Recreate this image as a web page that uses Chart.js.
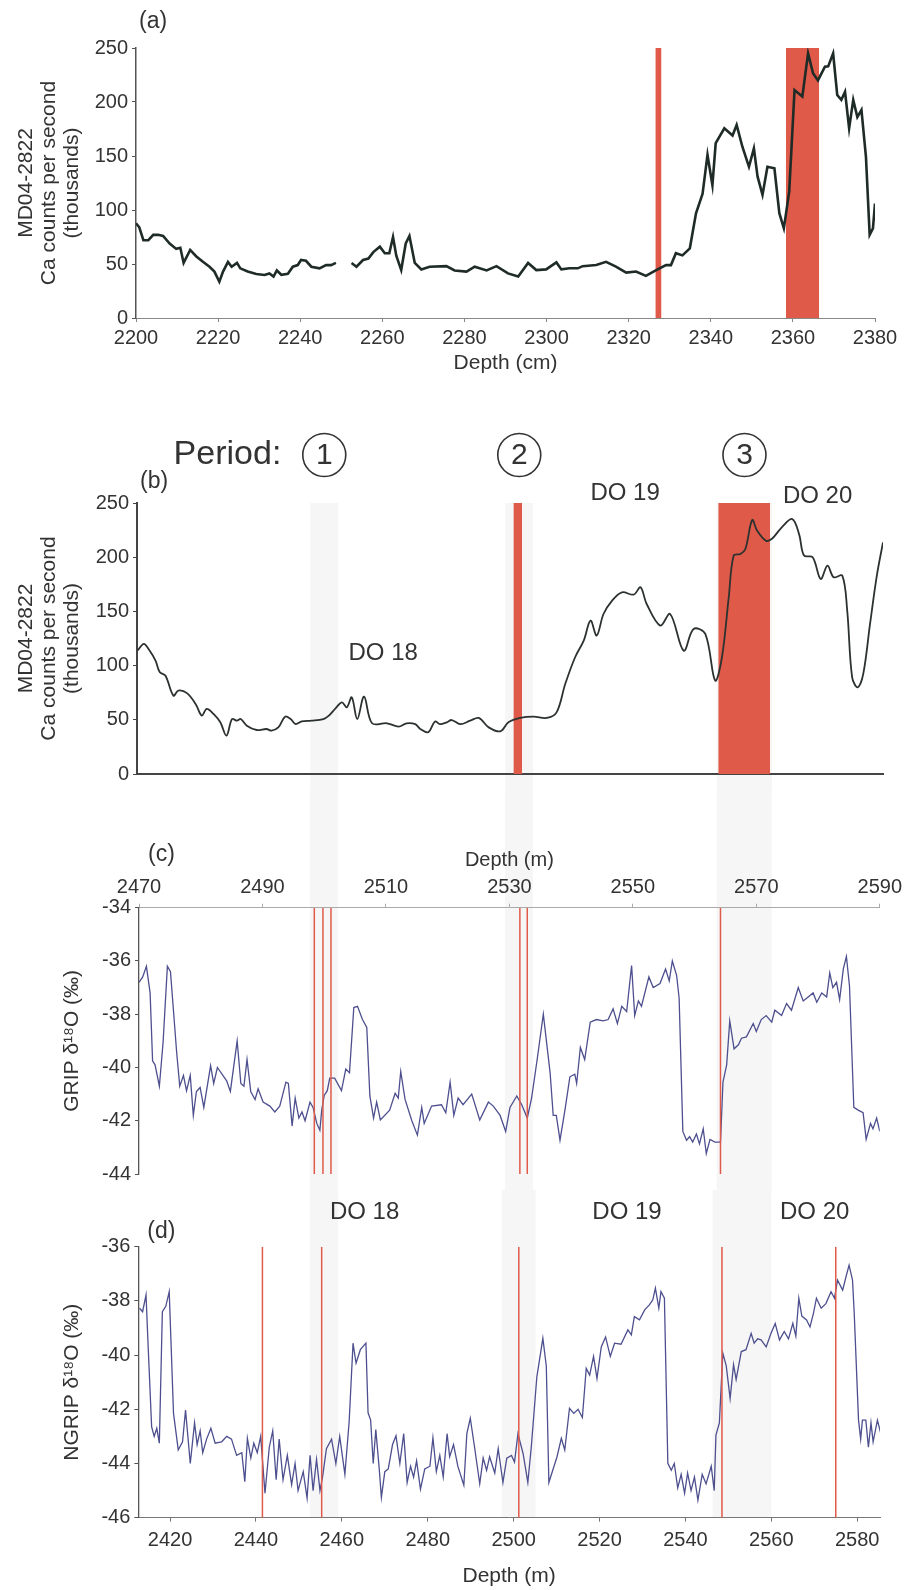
<!DOCTYPE html>
<html>
<head>
<meta charset="utf-8">
<script src="https://cdn.jsdelivr.net/npm/chart.js@4/dist/chart.umd.min.js"></script>
<style>
  body { margin: 0; background: #fff; }
  #wrap { position: relative; width: 906px; height: 1590px; }
  #wrap canvas { position: absolute; left: 0; }
</style>
</head>
<body>
<div id="wrap">
  <canvas id="chartA" width="906" height="378" style="top:0"></canvas>
  <canvas id="chartB" width="906" height="412" style="top:378px"></canvas>
  <canvas id="chartC" width="906" height="400" style="top:790px"></canvas>
  <canvas id="chartD" width="906" height="400" style="top:1190px"></canvas>
</div>
<script>
// (a) MD04-2822 Ca counts vs core depth (cm); null marks the gap in the record
const aDepth = [2200, 2200.8, 2201.8, 2203, 2204.2, 2205.4, 2206.6, 2208.2, 2209.8, 2210.8,
  2211.6, 2213.2, 2214.7, 2216.3, 2217.9, 2219.1, 2220.3, 2221.2, 2222.4, 2223.3,
  2224.6, 2225.4, 2227.2, 2229.3, 2231.3, 2232.5, 2233.5, 2234.3, 2235.4, 2237,
  2238.2, 2239.4, 2240.2, 2241.4, 2242.7, 2244.7, 2246.3, 2247.5, 2248.7, 2250.5,
  2252.5, 2253.7, 2255.3, 2256.6, 2257.8, 2259.4, 2260.6, 2261.7, 2262.6, 2263.4,
  2264.6, 2265.7, 2266.6, 2267.9, 2269.5, 2271.5, 2275.6, 2277.6, 2280.5, 2282.5,
  2285.4, 2287.8, 2290.6, 2293.1, 2295.5, 2297.5, 2299.9, 2302.4, 2303.6, 2305.6,
  2307.6, 2308.8, 2312.1, 2314.5, 2316.9, 2319.4, 2321.8, 2324.2, 2326.7, 2329.1,
  2330.3, 2331.5, 2333.1, 2334.9, 2336.4, 2338, 2339.2, 2340.4, 2341.2, 2343.3,
  2345.3, 2346.3, 2347.7, 2349.3, 2350.5, 2351.4, 2352.6, 2353.8, 2355.5, 2356.7,
  2357.8, 2359.1, 2360.4, 2362.3, 2363.7, 2364.9, 2366.1, 2367.8, 2368.6, 2369.8,
  2370.8, 2371.8, 2372.7, 2373.7, 2374.7, 2375.7, 2376.7, 2377.8, 2378.7, 2379.5, 2380];
const aCa = [87.7, 84, 72, 72, 77, 77, 76, 69, 64, 65,
  51, 63, 57, 52, 47.5, 43, 33.6, 43, 52, 47.5,
  51, 46, 43, 40.7, 39.8, 41.3, 38.4, 44, 40, 41,
  47.5, 49, 53.7, 53, 47.5, 46, 49, 49, 51, null,
  51, 47.5, 53.7, 55, 61, 66, 60, 60, 75, 57.7,
  44.4, 69, 76, 51, 45, 47.5, 48, 44, 43, 47.5,
  44, 48, 41.3, 38.4, 51, 44.4, 45, 51.5, 45, 46,
  46, 48, 49, 52, 47.5, 42, 43, 39, 44.4, 49,
  49, 60, 58, 64.5, 97, 115, 151, 123, 162, 175.6,
  169, 178.7, 158.6, 140, 157, 130.9, 114, 140, 138.6, 97,
  83, 117, 211, 205, 245, 226.6, 220, 232.7, 233, 245,
  206.5, 202, 209.5, 175.6, 202, 186, 192.6, 149, 77, 83, 106];
const aRedBars = [[2326.5, 2328.0], [2358.3, 2366.4]];

// (b) the same Ca record placed on the GRIP depth axis (m)
const bDepth = [2469.7, 2470.7, 2471.5, 2472.6, 2473.3, 2474.2, 2475.5, 2476.3, 2477.7, 2479.1,
  2480.1, 2480.9, 2482, 2483.1, 2484.1, 2485, 2485.8, 2486.4, 2487.4, 2489,
  2490.6, 2491.4, 2492.5, 2493.6, 2494.5, 2495.3, 2496.3, 2497.9, 2499.8, 2500.7,
  2501.7, 2502.8, 2503.6, 2504.4, 2505.3, 2506.4, 2507.7, 2510.1, 2512, 2513.3,
  2514.7, 2515.5, 2516.8, 2517.9, 2518.7, 2519.8, 2520.6, 2522, 2523.6, 2525,
  2526.6, 2528.5, 2529.8, 2531.7, 2533.9, 2536, 2537.6, 2539, 2540.6, 2542,
  2543.1, 2544.1, 2545.2, 2546.6, 2548.2, 2550.1, 2551.2, 2552.2, 2554.4, 2556,
  2558.2, 2559.8, 2561.7, 2563.3, 2564.4, 2565.5, 2566.3, 2567.4, 2568.2, 2569.3,
  2570.1, 2571.5, 2572.5, 2574.1, 2575.8, 2576.9, 2577.7, 2579.1, 2580.4, 2581.5,
  2582.5, 2583.9, 2584.7, 2585.5, 2586.4, 2587.3, 2588.4, 2589.5, 2590.5];
const bCa = [114, 120, 115, 104.6, 93.8, 90.8, 72.3, 77, 74.6, 64.6,
  53.9, 60, 55.4, 47.7, 35.4, 50.7, 49.2, 50.7, 44.6, 40.6,
  41.5, 40, 43, 52.9, 50.7, 46.1, 48.5, 49.2, 50.7, 53.9,
  60, 66.1, 61.5, 70.8, 50.7, 71.4, 46.8, 46.8, 43.7, 46.8,
  46, 41.5, 38.5, 48.5, 46, 47.7, 49.8, 46, 49.2, 51.7,
  43, 39.4, 47.7, 51.7, 52.9, 51.7, 56.9, 83, 107.7, 123,
  141.5, 127.7, 147.6, 160, 167.6, 165.5, 172.2, 156.8, 136.9, 147.6,
  113.8, 133.8, 129.2, 86.2, 107.7, 163, 201.5, 203, 207.6, 234.3,
  224.5, 215.3, 217, 227.6, 235.2, 221.3, 201.5, 200, 179.9, 192.2,
  181.5, 183, 150.7, 89.2, 80, 92.3, 138.4, 183, 213.7];
const bRedBars = [[2530.6, 2532.0], [2563.8, 2572.2]];
const bBands = [[2497.7, 2502.2], [2529.3, 2533.8], [2563.6, 2572.5]];
const periods = ["1", "2", "3"];

// (c) GRIP d18O vs depth (m)
const cDepth = [2470, 2470.6, 2471.2, 2471.8, 2472.2, 2472.6, 2473.3, 2473.9, 2474.6, 2475.1,
  2476.1, 2476.6, 2477.2, 2477.7, 2478.3, 2478.8, 2479.3, 2479.9, 2480.5, 2481.6,
  2482.1, 2482.7, 2484.2, 2484.8, 2485.9, 2486.5, 2487, 2487.5, 2488.1, 2488.8,
  2489.3, 2490.1, 2491.2, 2492, 2492.8, 2493.8, 2494.2, 2494.8, 2495.3, 2495.9,
  2496.4, 2496.9, 2497.7, 2498.2, 2498.8, 2499.3, 2499.6, 2500, 2500.5, 2500.9,
  2501.7, 2502.8, 2503.5, 2504.1, 2504.8, 2505.4, 2506.2, 2506.9, 2507.4, 2508,
  2508.5, 2509.1, 2510.6, 2511.5, 2512, 2512.4, 2513.1, 2514.2, 2515.1, 2515.8,
  2516.2, 2517.4, 2519, 2519.7, 2520.4, 2521, 2521.7, 2522.5, 2523.9, 2525.2,
  2526.6, 2527.4, 2528.5, 2529.4, 2530.1, 2531.2, 2532, 2532.9, 2533.6, 2534.5,
  2535.5, 2536.6, 2537.1, 2537.6, 2538.2, 2539, 2539.8, 2540.6, 2540.9, 2541.5,
  2542.2, 2543.1, 2544.1, 2545.2, 2546, 2546.8, 2547.5, 2548.2, 2549, 2549.8,
  2550.3, 2550.9, 2551.4, 2552.6, 2553.3, 2554.4, 2555.3, 2555.9, 2556.4, 2557.1,
  2557.5, 2558.1, 2558.7, 2559.2, 2559.7, 2560.3, 2560.8, 2561.4, 2561.9, 2562.5,
  2563.3, 2564.2, 2564.6, 2565.2, 2565.7, 2566.4, 2567.1, 2567.6, 2568.4, 2569.5,
  2570, 2570.8, 2571.6, 2572.5, 2573, 2574.1, 2574.9, 2575.7, 2576.8, 2577.6,
  2578.4, 2579.2, 2579.8, 2580.6, 2581.4, 2581.9, 2582.4, 2583, 2583.5, 2584.1,
  2584.6, 2585.1, 2585.8, 2586.5, 2587.3, 2587.8, 2588.5, 2588.9, 2589.5, 2590];
const cO18 = [-36.8, -36.6, -36.2, -37.2, -39.75, -39.9, -40.7, -39.06, -36.2, -36.4,
  -39.43, -40.7, -40.3, -40.87, -40.3, -41.8, -40.9, -40.75, -41.5, -39.93,
  -40.6, -40, -40.5, -40.9, -39, -40.6, -40.7, -39.7, -40.9, -41.2,
  -40.8, -41.3, -41.45, -41.67, -41.45, -40.55, -40.6, -42.2, -41.15, -41.9,
  -41.67, -42, -41.3, -41.5, -42.1, -42.36, -41.6, -41.05, -40.87, -40.4,
  -40.4, -40.87, -40.06, -40.2, -37.75, -37.7, -38.2, -38.5, -41.07, -41.9,
  -41.3, -41.97, -41.6, -40.97, -41.15, -40.15, -41.2, -42, -42.54, -41.5,
  -42.1, -41.45, -41.4, -41.7, -40.55, -41.8, -41.15, -41.4, -41, -41.97,
  -41.3, -41.45, -41.8, -42.4, -41.5, -41.07, -41.4, -41.9, -41.15, -39.7,
  -38, -40.2, -41.8, -41.8, -42.73, -41.6, -40.35, -40.25, -40.6, -39.25,
  -39.7, -38.3, -38.2, -38.25, -38.2, -37.8, -38.35, -37.7, -37.9, -36.17,
  -38.05, -37.5, -37.7, -36.6, -37, -36.85, -36.3, -36.75, -36, -36.55,
  -37.4, -42.4, -42.73, -42.6, -42.8, -42.5, -42.87, -42.3, -43.23, -42.7,
  -42.8, -42.8, -40.55, -39.9, -38.25, -39.3, -39.15, -38.9, -38.85, -38.35,
  -38.65, -38.2, -38.05, -38.3, -37.85, -38.05, -37.6, -37.85, -37, -37.5,
  -37.35, -37.2, -37.55, -37.2, -37.35, -36.45, -37, -36.8, -37.45, -36.3,
  -35.83, -36.95, -41.5, -41.6, -41.7, -42.7, -42.1, -42.3, -41.9, -42.4];
const cRedLines = [2498.4, 2499.8, 2501.1, 2531.7, 2532.9, 2564.2];

// (d) NGRIP d18O vs depth (m)
const dDepth = [2412.9, 2413.6, 2414.4, 2414.9, 2415.7, 2416.3, 2416.9, 2417.5, 2418.2, 2419,
  2419.8, 2420.8, 2421.9, 2422.9, 2423.6, 2424.7, 2425.7, 2426.3, 2427, 2427.6,
  2428.5, 2429.5, 2430.5, 2432, 2433.2, 2434.3, 2435.5, 2436.7, 2437.4, 2438,
  2438.8, 2439.5, 2440.3, 2441.1, 2442.1, 2443.1, 2443.9, 2444.7, 2445.4, 2446.3,
  2447.3, 2448.3, 2449.1, 2449.8, 2451, 2451.9, 2452.6, 2453.3, 2454.1, 2454.9,
  2455.5, 2456.4, 2457.6, 2458.6, 2459.5, 2460.7, 2461.7, 2462.6, 2463.3, 2464.3,
  2465.6, 2466.1, 2466.7, 2467.3, 2467.9, 2468.7, 2469.2, 2470, 2470.8, 2471.8,
  2472.6, 2473.5, 2474.4, 2475.2, 2476, 2476.7, 2477.4, 2478.3, 2479.3, 2480.5,
  2481.2, 2482, 2482.8, 2483.6, 2484.5, 2485.1, 2486, 2487, 2488.4, 2489.1,
  2489.9, 2490.9, 2492.1, 2492.9, 2493.7, 2494.4, 2495.6, 2496.4, 2497.5, 2498.4,
  2499.5, 2500.2, 2501, 2502.2, 2503.3, 2504.1, 2505.4, 2506.8, 2507.6, 2508.2,
  2509.1, 2510.1, 2511.1, 2511.9, 2513, 2514, 2515, 2516, 2516.9, 2517.7,
  2518.6, 2519.4, 2520.4, 2521.4, 2522.5, 2523.5, 2525, 2526.6, 2527.4, 2528.1,
  2529.3, 2530.5, 2531.6, 2532.4, 2533, 2533.8, 2534.3, 2535.1, 2535.9, 2536.7,
  2537.4, 2538.2, 2539, 2539.8, 2540.5, 2541.3, 2542.1, 2542.9, 2543.9, 2544.8,
  2546, 2546.7, 2547.1, 2547.9, 2548.7, 2549.5, 2550.4, 2551.2, 2551.8, 2553,
  2554.1, 2555.3, 2556, 2556.8, 2557.6, 2558.8, 2559.9, 2560.9, 2561.9, 2563,
  2564, 2565, 2565.7, 2566.4, 2567.1, 2568.2, 2569, 2569.8, 2570.5, 2571.6,
  2572.7, 2573.9, 2574.7, 2575.4, 2576.6, 2577.4, 2578.1, 2578.9, 2579.3, 2580.3,
  2580.8, 2581.2, 2582, 2582.6, 2583.2, 2583.7, 2584.7, 2585.5];
const dO18 = [-38.27, -38.4, -37.78, -39.7, -42.64, -43, -42.7, -43.25, -38.4, -38.2,
  -37.66, -42.15, -43.5, -43.2, -42.03, -44, -42.5, -43.3, -42.8, -43.6,
  -43.1, -42.7, -43.25, -43.2, -43, -43.1, -43.7, -43.6, -44.67, -43.07,
  -43.8, -43.25, -43.6, -43, -45.1, -43.4, -42.8, -44.6, -43.1, -44.6,
  -43.7, -44.78, -44, -45, -44.3, -45.28, -43.7, -45, -43.85, -45,
  -44.5, -43.45, -43.1, -44, -43, -44.4, -42.45, -39.56, -40.3, -39.8,
  -39.56, -42.13, -42.4, -44, -42.75, -44.2, -45.25, -44.3, -44.2, -43.3,
  -42.98, -44, -42.9, -44.7, -44.1, -44.5, -43.9, -44.95, -44.2, -44.1,
  -43.05, -44.3, -43.7, -44.5, -42.9, -43.75, -43.3, -44.1, -44.8, -42.9,
  -42.33, -43.4, -44.75, -43.8, -44.25, -43.75, -44.35, -43.45, -44.7, -43.8,
  -43.7, -43.95, -42.9, -43.64, -44.7, -43.4, -40.8, -39.38, -40.4, -44.7,
  -44.25, -43.75, -43.07, -43.5, -41.96, -42.15, -42, -42.3, -40.49, -40.74,
  -40.05, -40.86, -39.7, -39.33, -40.05, -39.56, -39.6, -39.07, -39.25, -38.58,
  -38.7, -38.33, -38.15, -37.96, -37.53, -38.27, -37.66, -37.9, -43.99, -44.25,
  -44, -44.9, -44.4, -45.1, -44.35, -45, -44.5, -45.35, -44.4, -44.75,
  -44.1, -45, -42.95, -42.5, -39.93, -40.4, -41.6, -40.35, -40.9, -39.87,
  -39.8, -39.2, -39.56, -39.4, -39.44, -39.7, -39.2, -38.83, -39.44, -39.13,
  -39.4, -38.83, -39.3, -37.9, -38.56, -38.7, -38.96, -38.46, -37.9, -38.27,
  -38.1, -37.66, -37.9, -37.23, -37.6, -37.1, -36.68, -37.23, -38.46, -42.4,
  -43.1, -42.4, -42.4, -43.4, -42.5, -43.2, -42.4, -42.9];
const dRedLines = [2441.5, 2455.3, 2501.2, 2548.5, 2575];
const dBands = [[2452.6, 2459.1], [2497.2, 2505.1], [2546.3, 2560]];

const FONT = "'Liberation Sans', Arial, Helvetica, sans-serif";
const INK = "#333";
const RED = "#e05a4a";

const pts = (xs, ys) => xs.map((x, i) => ({x, y: ys[i]}));
const font = (size, lineHeight = 1.2) => ({family: FONT, size, lineHeight});
const label = (v) => String(v);

// shaded bands, circled period numbers and free text
const decor = {
  id: "decor",
  beforeDraw(chart, args, o) {
    if (!o.bands) return;
    const {ctx, chartArea: a} = chart;
    const x = chart.scales.x;
    const top = o.bandFrom === "area" ? a.top : 0;
    const bottom = o.bandTo === "area" ? a.bottom : chart.height;
    ctx.save();
    ctx.fillStyle = "#f6f6f6";
    o.bands.forEach(([b0, b1]) => {
      const p0 = x.getPixelForValue(b0);
      ctx.fillRect(p0, top, x.getPixelForValue(b1) - p0, bottom - top);
    });
    ctx.restore();
  },
  afterDraw(chart, args, o) {
    const {ctx, chartArea: a, scales} = chart;
    ctx.save();
    ctx.fillStyle = INK;
    ctx.strokeStyle = INK;
    ctx.textBaseline = "middle";
    (o.tags || []).forEach((t) => {
      ctx.font = `${t.size}px ${FONT}`;
      ctx.textAlign = "left";
      ctx.fillText(t.text, a.left + t.dx, a.top + t.dy);
    });
    (o.notes || []).forEach((n) => {
      ctx.font = `${n.size}px ${FONT}`;
      ctx.textAlign = "center";
      ctx.fillText(n.text, scales.x.getPixelForValue(n.x), scales.y.getPixelForValue(n.y));
    });
    (o.periods || []).forEach((p, i) => {
      const [b0, b1] = o.bands[i];
      const cx = scales.x.getPixelForValue((b0 + b1) / 2);
      const cy = a.top + o.periodDy;
      ctx.lineWidth = 1.6;
      ctx.beginPath();
      ctx.arc(cx, cy, 21.5, 0, Math.PI * 2);
      ctx.stroke();
      ctx.font = `30px ${FONT}`;
      ctx.textAlign = "center";
      ctx.fillText(p, cx, cy + 1);
    });
    ctx.restore();
  }
};
Chart.register(decor);

function curve(data, color, width, tension = 0) {
  return {data, borderColor: color, borderWidth: width, tension, fill: false, pointRadius: 0, order: 0};
}

function redBar([x0, x1], top) {
  return {data: [{x: x0, y: top}, {x: x1, y: top}], borderWidth: 0, backgroundColor: RED,
    fill: "origin", pointRadius: 0, order: 1};
}

function redLine(x, y0, y1) {
  return {data: [{x, y: y0}, {x, y: y1}], borderColor: RED, borderWidth: 1.5,
    fill: false, pointRadius: 0, order: -1};
}

function yAxis(min, max, step, width, title, titleTop, edge, edgeWidth) {
  return {
    type: "linear", min, max,
    afterFit: (s) => { s.width = width; },
    ticks: {stepSize: step, font: font(20), color: INK, padding: 4, callback: label},
    grid: {drawOnChartArea: false, tickLength: 4, color: edge},
    border: {color: edge, width: edgeWidth},
    title: {display: true, text: title, font: font(21, 1.1), color: INK, padding: {top: titleTop, bottom: 0}}
  };
}

function makeChart(id, datasets, padding, x, y, decorOpts) {
  return new Chart(document.getElementById(id), {
    type: "line",
    data: {datasets},
    options: {
      responsive: false,
      animation: false,
      events: [],
      layout: {padding},
      plugins: {legend: {display: false}, tooltip: {enabled: false}, decor: decorOpts},
      scales: {x, y}
    }
  });
}

const caTitle = ["MD04-2822", "Ca counts per second", "(thousands)"];

// (a)
makeChart("chartA",
  [curve(pts(aDepth, aCa), "#1f2b27", 2.6), ...aRedBars.map((b) => redBar(b, 250))],
  {top: 48, right: 31, bottom: 0, left: 0},
  {
    type: "linear", position: "bottom", min: 2200, max: 2380,
    afterFit: (s) => { s.height = 60; },
    ticks: {stepSize: 20, font: font(20), color: INK, padding: 4, maxRotation: 0, autoSkip: false, callback: label},
    grid: {drawOnChartArea: false, tickLength: 4, color: "#888"},
    border: {color: "#888", width: 1},
    title: {display: true, text: "Depth (cm)", font: font(21), color: INK, padding: {top: 0, bottom: 2}}
  },
  yAxis(0, 250, 50, 136, caTitle, 14.5, "#555", 1.5),
  {tags: [{text: "(a)", size: 23, dx: 3, dy: -26}]}
);

// (b)
makeChart("chartB",
  [curve(pts(bDepth, bCa), "#2c3230", 1.8, 0.35), ...bRedBars.map((b) => redBar(b, 250))],
  {top: 125, right: 23, bottom: 0, left: 0},
  {
    type: "linear", position: "bottom", min: 2469.6, max: 2590.5,
    afterFit: (s) => { s.height = 13.3; },
    ticks: {display: false},
    grid: {display: false},
    border: {color: "#444", width: 2}
  },
  yAxis(0, 250, 50, 137, caTitle, 14.5, "#444", 2),
  {
    bands: bBands, bandFrom: "area", bandTo: "canvas",
    periods, periodDy: -48,
    tags: [{text: "Period:", size: 34, dx: 36.6, dy: -48}, {text: "(b)", size: 23, dx: 3, dy: -21}],
    notes: [
      {text: "DO 18", x: 2509.5, y: 110.9, size: 24},
      {text: "DO 19", x: 2548.7, y: 258.5, size: 24},
      {text: "DO 20", x: 2579.9, y: 256, size: 24}
    ]
  }
);

// (c)
makeChart("chartC",
  [curve(pts(cDepth, cO18), "#4d4f8e", 1.3), ...cRedLines.map((d) => redLine(d, -34, -44))],
  {top: 0, right: 26, bottom: 14.5, left: 0},
  {
    type: "linear", position: "top", min: 2470, max: 2590,
    afterFit: (s) => { s.height = 117.7; },
    ticks: {stepSize: 20, font: font(20), color: INK, padding: 4, maxRotation: 0, autoSkip: false, callback: label},
    grid: {drawOnChartArea: false, tickLength: 4, color: "#aaa"},
    border: {color: "#aaa", width: 1},
    title: {display: true, text: "Depth (m)", font: font(20), color: INK, padding: {top: 58, bottom: 0}}
  },
  yAxis(-44, -34, 2, 139, "GRIP δ¹⁸O (‰)", 60.5, "#555", 1.3),
  {
    bands: bBands, bandFrom: "canvas", bandTo: "canvas",
    tags: [{text: "(c)", size: 23, dx: 9, dy: -52.7}]
  }
);

// (d)
makeChart("chartD",
  [curve(pts(dDepth, dO18), "#4d4f8e", 1.3), ...dRedLines.map((d) => redLine(d, -36, -46))],
  {top: 56.7, right: 26, bottom: 0, left: 0},
  {
    type: "linear", position: "bottom", min: 2412.6, max: 2585.3,
    afterFit: (s) => { s.height = 72.3; },
    ticks: {stepSize: 20, includeBounds: false, font: font(20), color: INK, padding: 6.3, maxRotation: 0, autoSkip: false, callback: label},
    grid: {drawOnChartArea: false, tickLength: 4, color: "#777"},
    border: {color: "#777", width: 1},
    title: {display: true, text: "Depth (m)", font: font(21), color: INK, padding: {top: 0, bottom: 1}}
  },
  yAxis(-46, -36, 2, 138.3, "NGRIP δ¹⁸O (‰)", 60.5, "#555", 1.3),
  {
    bands: dBands, bandFrom: "canvas", bandTo: "area",
    tags: [{text: "(d)", size: 23, dx: 9, dy: -14.7}],
    notes: [
      {text: "DO 18", x: 2465.3, y: -34.72, size: 24},
      {text: "DO 19", x: 2526.4, y: -34.72, size: 24},
      {text: "DO 20", x: 2570.1, y: -34.72, size: 24}
    ]
  }
);
</script>
</body>
</html>
